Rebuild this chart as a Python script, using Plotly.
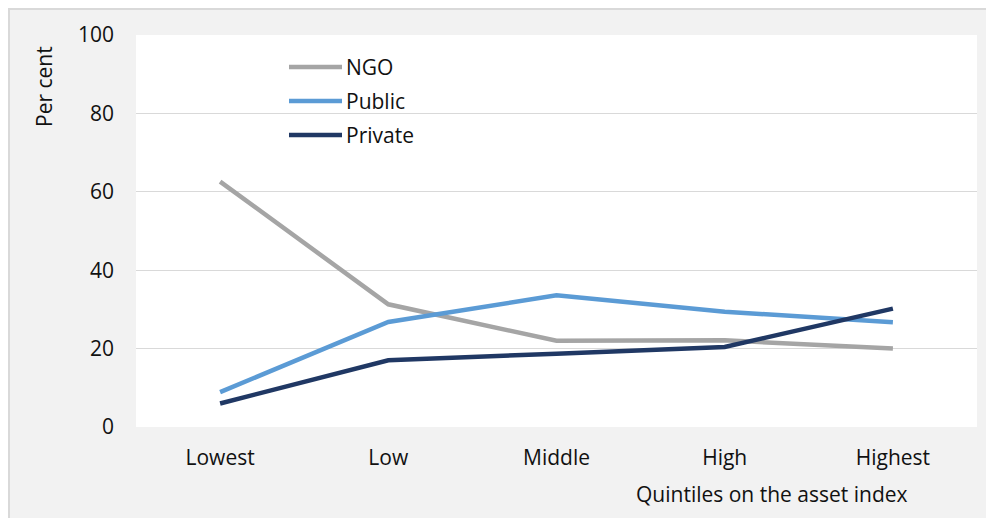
import plotly.graph_objects as go

categories = ["Lowest", "Low", "Middle", "High", "Highest"]
ngo = [62.6, 31.3, 22.0, 22.1, 20.0]
public = [8.9, 26.8, 33.6, 29.4, 26.7]
private = [6.0, 17.0, 18.7, 20.4, 30.2]
y_ticks = [0, 20, 40, 60, 80, 100]

series = [("NGO", ngo, "#A5A5A5"), ("Public", public, "#5B9BD5"), ("Private", private, "#203864")]

FONT = "Open Sans"
FS = 21
PW, PH = 841.0, 392.0

fig = go.Figure()
shapes = []
annotations = []
legend_rows = [67, 101, 135]
for i, (name, vals, col) in enumerate(series):
    fig.add_trace(go.Scatter(x=categories, y=vals, mode="lines", name=name,
                             showlegend=False,
                             line=dict(color=col, width=4.5)))
    yy = (427 - legend_rows[i]) / PH
    shapes.append(dict(type="line", xref="paper", yref="paper",
                       x0=(289 - 136) / PW, x1=(342 - 136) / PW, y0=yy, y1=yy,
                       line=dict(color=col, width=4.5)))
    annotations.append(dict(text=name, xref="paper", yref="paper",
                            x=(344 - 136) / PW, y=yy, showarrow=False,
                            xanchor="left", yanchor="middle",
                            font=dict(size=FS)))

shapes += [
    dict(type="line", xref="paper", yref="paper", x0=-0.2, x1=1.1,
         y0=1 + 26 / PH, y1=1 + 26 / PH, line=dict(color="#D9D9D9", width=2)),
    dict(type="line", xref="paper", yref="paper", x0=-127 / PW, x1=-127 / PW,
         y0=-0.3, y1=1.2, line=dict(color="#D9D9D9", width=2)),
]

annotations += [
    dict(text="Per cent", xref="paper", yref="paper",
         x=(44 - 136) / PW, y=(427 - 87) / PH, textangle=-90, showarrow=False,
         font=dict(size=FS), xanchor="center", yanchor="middle"),
    dict(text="Quintiles on the asset index", xref="paper", yref="paper",
         x=(772 - 136) / PW, y=(427 - 494) / PH, showarrow=False, font=dict(size=FS),
         xanchor="center", yanchor="middle"),
]

fig.update_layout(
    width=986, height=510,
    margin=dict(l=128, r=17, t=27, b=91),
    paper_bgcolor="#F2F2F2", plot_bgcolor="#FFFFFF",
    font=dict(family=FONT, size=FS, color="#111111"),
    showlegend=False,
    xaxis=dict(type="category", range=[-0.5, 4.5], showgrid=False,
               showline=False, ticks="", ticklabelstandoff=16,
               tickfont=dict(size=FS)),
    yaxis=dict(range=[0, 100], tickvals=y_ticks, showgrid=True,
               gridcolor="#D9D9D9", gridwidth=1.3, zeroline=False,
               showline=False, ticks="", ticklabelstandoff=21,
               tickfont=dict(size=FS)),
    shapes=shapes,
    annotations=annotations,
)

fig.write_html("out.html")
